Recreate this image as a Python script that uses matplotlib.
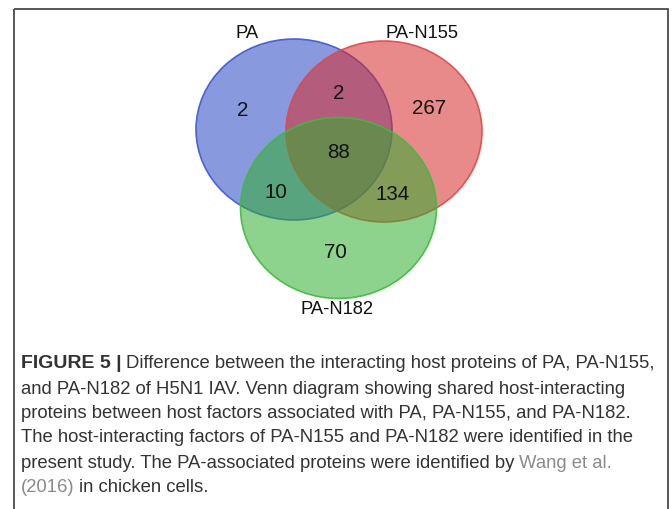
import matplotlib
matplotlib.use('Agg')
import matplotlib.pyplot as plt
from matplotlib.patches import Ellipse, Rectangle
from matplotlib import font_manager

# data
set_names = ['PA', 'PA-N155', 'PA-N182']
set_colors = ['#2846c4', '#d82a2a', '#2fae2f']
edge_colors = ['#3a5ad0', '#e04848', '#3fba3f']
region_keys = ['100', '110', '010', '111', '101', '011', '001']
region_counts = [2, 2, 267, 88, 10, 134, 70]

caption = [
    [('FIGURE 5 |', 'bold'), ('Difference between the interacting host proteins of PA, PA-N155,', 'normal')],
    [('and PA-N182 of H5N1 IAV. Venn diagram showing shared host-interacting', 'normal')],
    [('proteins between host factors associated with PA, PA-N155, and PA-N182.', 'normal')],
    [('The host-interacting factors of PA-N155 and PA-N182 were identified in the', 'normal')],
    [('present study. The PA-associated proteins were identified by', 'normal'), ('Wang et al.', 'link')],
    [('(2016)', 'link'), ('in chicken cells.', 'normal')],
]

# layout (pixel coords)
W, H = 672, 509
circle_xy = [(294, 129.5), (384, 131.5), (338.5, 208)]
circle_w, circle_h = 196, 181
name_xy = [(247, 33), (422, 33.5), (337, 309)]
region_xy = {'100': (243, 110), '110': (339, 93), '010': (429, 108),
             '111': (339, 153), '101': (276, 193), '011': (393, 195),
             '001': (335, 253)}

installed = {f.name for f in font_manager.fontManager.ttflist}
venn_font = 'Liberation Sans' if 'Liberation Sans' in installed else 'DejaVu Sans'
cap_font = 'Liberation Sans Narrow' if 'Liberation Sans Narrow' in installed else venn_font

fig = plt.figure(figsize=(W / 100, H / 100), dpi=100)
ax = fig.add_axes([0, 0, 1, 1])
ax.set_xlim(0, W)
ax.set_ylim(H, 0)
ax.axis('off')

# frame around the figure
ax.add_patch(Rectangle((14, 9), 654, 520, fill=False, edgecolor='#4a4a4a', lw=1.3))

for (x, y), fc, ec in zip(circle_xy, set_colors, edge_colors):
    ax.add_patch(Ellipse((x, y), circle_w, circle_h, facecolor=fc, alpha=0.55,
                         edgecolor='none'))
    ax.add_patch(Ellipse((x, y), circle_w, circle_h, facecolor='none',
                         edgecolor=ec, lw=1.2, alpha=0.9))

for name, (x, y) in zip(set_names, name_xy):
    ax.text(x, y, name, ha='center', va='center', fontsize=13.2,
            family=venn_font, color='#111111')

for key, n in zip(region_keys, region_counts):
    x, y = region_xy[key]
    ax.text(x, y, str(n), ha='center', va='center', fontsize=14.8,
            family=venn_font, color='#111111')

# caption, piece by piece
renderer = fig.canvas.get_renderer()
styles = {'bold': dict(color='#333333', fontweight='bold', fontsize=14),
          'normal': dict(color='#333333', fontsize=13.3),
          'link': dict(color='#8a8a8a', fontsize=13.3)}
line_y = [364, 389, 413, 438, 463, 487]
gap = 4.5
for segs, y in zip(caption, line_y):
    x = 21
    for text, style in segs:
        t = ax.text(x, y, text, ha='left', va='center',
                    family=cap_font, **styles[style])
        bb = t.get_window_extent(renderer)
        x = bb.x1 + gap

fig.savefig('out.png', dpi=100)
